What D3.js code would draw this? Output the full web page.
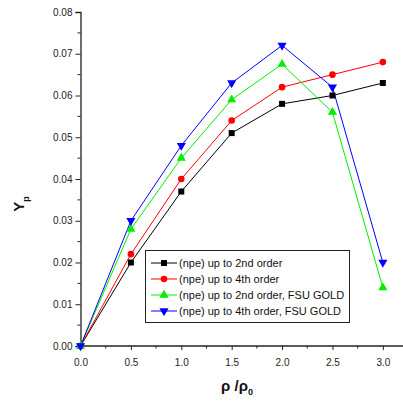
<!DOCTYPE html>
<html><head><meta charset="utf-8">
<script src="https://cdn.jsdelivr.net/npm/d3@7"></script>
<style>body{margin:0;background:#fff}svg{display:block}text{font-family:"Liberation Sans",Arial,sans-serif}</style>
</head><body><svg id="c" width="403" height="404"></svg>
<script>
const xs = [0, 0.5, 1.0, 1.5, 2.0, 2.5, 3.0];
const s2nd = [0, 0.020, 0.037, 0.051, 0.058, 0.060, 0.063];
const s4th = [0, 0.022, 0.040, 0.054, 0.062, 0.065, 0.068];
const s2ndFSU = [0, 0.028, 0.045, 0.059, 0.0675, 0.056, 0.014];
const s4thFSU = [0, 0.030, 0.048, 0.063, 0.072, 0.062, 0.020];
const names = ["(npe) up to 2nd order", "(npe) up to 4th order", "(npe) up to 2nd order, FSU GOLD", "(npe) up to 4th order, FSU GOLD"];
const xTicks = [0, 0.5, 1.0, 1.5, 2.0, 2.5, 3.0];
const yTicks = [0, 0.01, 0.02, 0.03, 0.04, 0.05, 0.06, 0.07, 0.08];

const series = [
  {name: names[0], vals: s2nd, color: "#000000", sym: d3.symbolSquare, size: 36, rot: 0},
  {name: names[1], vals: s4th, color: "#ff0000", sym: d3.symbolCircle, size: 34, rot: 0},
  {name: names[2], vals: s2ndFSU, color: "#00ee00", sym: d3.symbolTriangle, size: 36, rot: 0},
  {name: names[3], vals: s4thFSU, color: "#0000ff", sym: d3.symbolTriangle, size: 36, rot: 180}
];

const svg = d3.select("#c");
const x = d3.scaleLinear().domain([0, 3.2]).range([80.5, 403]);
const y = d3.scaleLinear().domain([0, 0.08]).range([346, 12]);

// axes
const xAxis = d3.axisBottom(x).tickValues(xTicks).tickFormat(d3.format(".1f")).tickSize(4).tickPadding(9);
const yAxis = d3.axisLeft(y).tickValues(yTicks).tickFormat(d3.format(".2f")).tickSize(5).tickPadding(3);

const gx = svg.append("g").attr("transform", `translate(0,${y(0)})`).call(xAxis);
const gy = svg.append("g").attr("transform", `translate(${x(0)},0)`).call(yAxis);
[gx, gy].forEach(g => {
  g.select(".domain").attr("stroke", "#222").attr("stroke-width", 1.3);
  g.selectAll(".tick line").attr("stroke", "#222").attr("stroke-width", 1);
  g.selectAll(".tick text").attr("font-size", 10).attr("fill", "#222").attr("font-family", '"Liberation Sans",Arial,sans-serif');
});
gx.select(".domain").attr("d", `M${x(0)},0H403`);
// minor ticks
const xMinor = d3.range(0.25, 3.2, 0.5);
gx.selectAll(".minor").data(xMinor).enter().append("line")
  .attr("x1", d => x(d)).attr("x2", d => x(d)).attr("y1", 0).attr("y2", 2.5).attr("stroke", "#222");
const yMinor = d3.range(0.005, 0.08, 0.01);
gy.selectAll(".minor").data(yMinor).enter().append("line")
  .attr("y1", d => y(d)).attr("y2", d => y(d)).attr("x1", 0).attr("x2", -3).attr("stroke", "#222");

// lines
const line = d3.line().x((d, i) => x(xs[i])).y(d => y(d));
series.forEach(s => {
  svg.append("path").attr("d", line(s.vals)).attr("fill", "none").attr("stroke", s.color).attr("stroke-width", 1);
});
series.forEach(s => {
  svg.append("g").selectAll("path").data(s.vals).enter().append("path")
    .attr("d", d3.symbol().type(s.sym).size(s.size))
    .attr("transform", (d, i) => `translate(${x(xs[i])},${y(d)}) rotate(${s.rot})`)
    .attr("fill", s.color);
});

// legend
const lg = svg.append("g");
lg.append("rect").attr("x", 145.5).attr("y", 250.5).attr("width", 204).attr("height", 72)
  .attr("fill", "#fff").attr("stroke", "#222").attr("stroke-width", 1);
series.forEach((s, i) => {
  const yy = 263 + i * 16;
  lg.append("line").attr("x1", 151).attr("x2", 177).attr("y1", yy).attr("y2", yy).attr("stroke", s.color).attr("stroke-width", 1);
  lg.append("path").attr("d", d3.symbol().type(s.sym).size(s.size)).attr("transform", `translate(164,${yy}) rotate(${s.rot})`).attr("fill", s.color);
  lg.append("text").attr("x", 179).attr("y", yy + 4).attr("font-size", 11).attr("fill", "#111").text(s.name);
});

// axis titles
const xt = svg.append("text").attr("x", 237).attr("y", 391).attr("text-anchor", "middle")
  .attr("font-size", 15).attr("font-weight", "bold").attr("fill", "#111");
xt.append("tspan").text("ρ /ρ");
xt.append("tspan").attr("font-size", 9).attr("dy", 4).text("0");

const yt = svg.append("text").attr("transform", "translate(24,204) rotate(-90)").attr("text-anchor", "middle")
  .attr("font-size", 15).attr("font-weight", "bold").attr("fill", "#111");
yt.append("tspan").text("Y");
yt.append("tspan").attr("font-size", 9).attr("dy", 5).text("p");
</script></body></html>
